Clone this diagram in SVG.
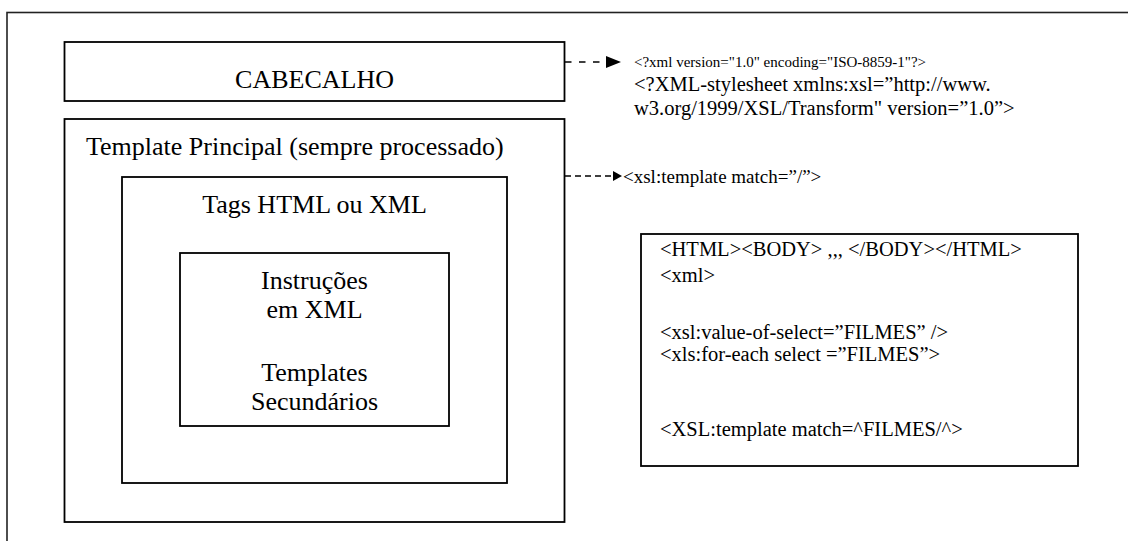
<svg xmlns="http://www.w3.org/2000/svg" width="1128" height="541" viewBox="0 0 1128 541">
<style>
.box{fill:none;stroke:#000;stroke-width:1.8}
.t{font-family:"Liberation Serif","Times New Roman",serif;fill:#000}
.lbl{font-size:26px}
.code{font-size:20.5px}
.dash{fill:none;stroke:#000;stroke-width:1.5}
</style>
<rect width="1128" height="541" fill="#fff"/>
<g id="frame"><rect x="7" y="12.5" width="1130" height="540" fill="none" stroke="#222" stroke-width="1.6"/></g>
<g id="cabecalho">
<rect class="box" x="64.5" y="42" width="500" height="59"/>
<text class="t lbl" x="314.5" y="88" text-anchor="middle">CABECALHO</text>
</g>
<g id="template-principal">
<rect class="box" x="64.5" y="119" width="500" height="403"/>
<text class="t lbl" x="86" y="155">Template Principal (sempre processado)</text>
</g>
<g id="tags">
<rect class="box" x="122" y="177" width="385" height="306"/>
<text class="t lbl" x="314.5" y="213" text-anchor="middle">Tags HTML ou XML</text>
</g>
<g id="instrucoes">
<rect class="box" x="180" y="253" width="269" height="173"/>
<text class="t lbl" x="314.5" y="289" text-anchor="middle">Instruções</text>
<text class="t lbl" x="314.5" y="318" text-anchor="middle">em XML</text>
<text class="t lbl" x="314.5" y="381" text-anchor="middle">Templates</text>
<text class="t lbl" x="314.5" y="410" text-anchor="middle">Secundários</text>
</g>
<g id="header-code">
<text class="t" x="634" y="67" font-size="15px">&lt;?xml version="1.0" encoding="ISO-8859-1"?&gt;</text>
<text class="t code" x="634" y="91">&lt;?XML-stylesheet xmlns:xsl=”http://www.</text>
<text class="t code" x="634" y="115">w3.org/1999/XSL/Transform" version=”1.0”&gt;</text>
</g>
<g id="template-code">
<text class="t" x="623" y="183" font-size="19px">&lt;xsl:template match=”/”&gt;</text>
</g>
<g id="code-box">
<rect class="box" x="641" y="234" width="437" height="232"/>
<text class="t code" x="660" y="256">&lt;HTML&gt;&lt;BODY&gt; ,,, &lt;/BODY&gt;&lt;/HTML&gt;</text>
<text class="t code" x="660" y="282">&lt;xml&gt;</text>
<text class="t code" x="660" y="339">&lt;xsl:value-of-select=”FILMES” /&gt;</text>
<text class="t code" x="660" y="361">&lt;xls:for-each select =”FILMES”&gt;</text>
<text class="t code" x="660" y="436">&lt;XSL:template match=^FILMES/^&gt;</text>
</g>
<g id="connectors">
<line class="dash" x1="565" y1="62" x2="606" y2="62" stroke-dasharray="6.5 7.5"/>
<polygon points="606,56 621,62 606,68" fill="#000"/>
<line class="dash" x1="565" y1="176" x2="613" y2="176" stroke-dasharray="6 4"/>
<polygon points="613,171 622,176 613,181" fill="#000"/>
</g>
</svg>
